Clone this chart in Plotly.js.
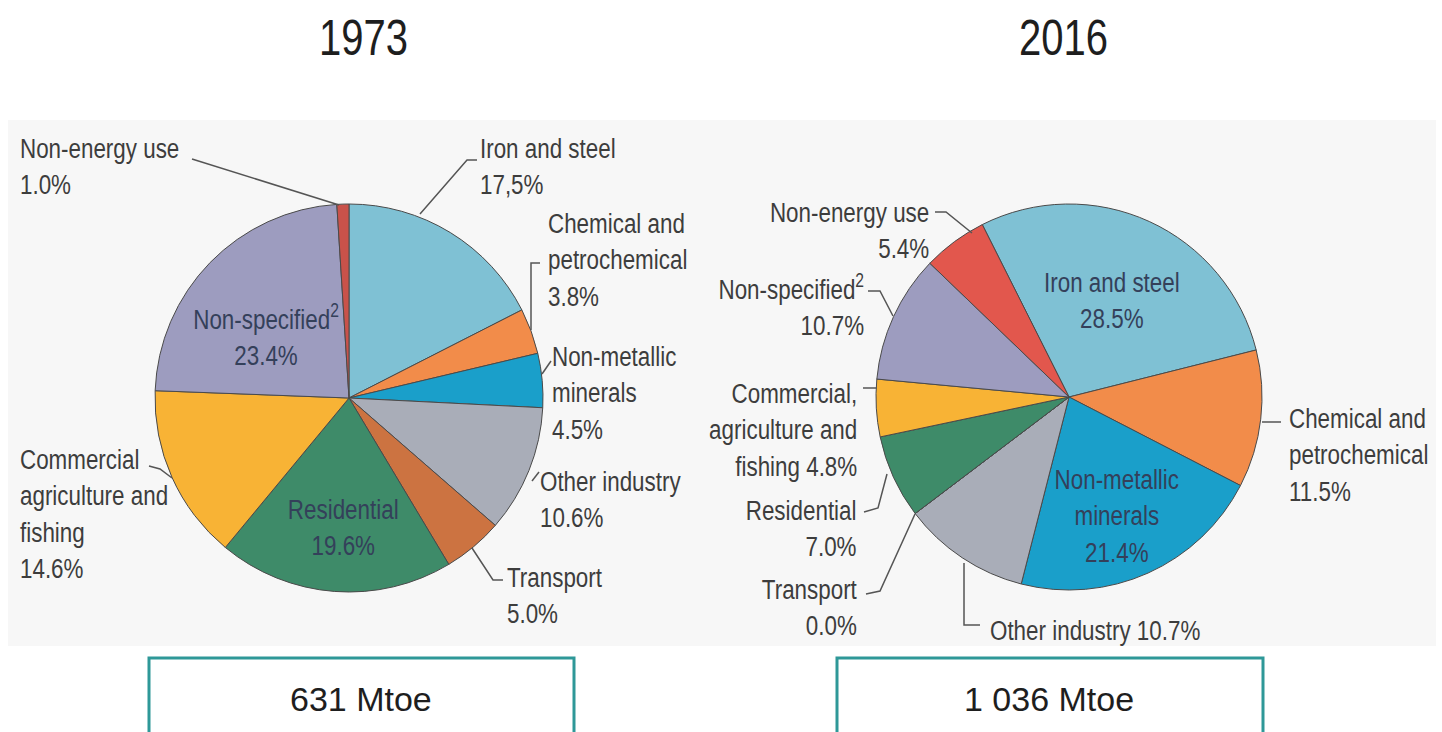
<!DOCTYPE html>
<html>
<head>
<meta charset="utf-8">
<script src="https://cdn.plot.ly/plotly-3.0.1.min.js"></script>
<style>html,body{margin:0;padding:0;background:#fff;}#chart{width:1442px;height:732px;}</style>
</head>
<body>
<div id="chart"></div>
<script>
// ---------- DATA ----------
const years = ["1973", "2016"];
const totals = ["631 Mtoe", "1 036 Mtoe"];
const categories = ["Iron and steel", "Chemical and petrochemical", "Non-metallic minerals", "Other industry", "Transport", "Residential", "Commercial, agriculture and fishing", "Non-specified", "Non-energy use"];
const values1973 = [17.5, 3.8, 4.5, 10.6, 5.0, 19.6, 14.6, 23.4, 1.0];
const values2016 = [28.5, 11.5, 21.4, 10.7, 0.0, 7.0, 4.8, 10.7, 5.4];
const names1973 = ["Iron and steel", "Chemical and<br>petrochemical", "Non-metallic<br>minerals", "Other industry", "Transport", "Residential", "Commercial<br>agriculture and<br>fishing", "Non-specified<sup>2</sup>", "Non-energy use"];
const names2016 = ["Iron and steel", "Chemical and<br>petrochemical", "Non-metallic<br>minerals", "Other industry", "Transport", "Residential", "Commercial,<br>agriculture and<br>fishing", "Non-specified<sup>2</sup>", "Non-energy use"];
const pct1973 = ["17,5%", "3.8%", "4.5%", "10.6%", "5.0%", "19.6%", "14.6%", "23.4%", "1.0%"];
const pct2016 = ["28.5%", "11.5%", "21.4%", "10.7%", "0.0%", "7.0%", "4.8%", "10.7%", "5.4%"];

// ---------- STYLE / LAYOUT ----------
const W = 1442, H = 732;
const colors1973 = ["#7fc1d4", "#f28c4a", "#1a9fca", "#a9adb8", "#cc7341", "#3e8b69", "#f8b335", "#9d9cbf", "#c9524a"];
const colors2016 = ["#7fc1d4", "#f28c4a", "#1a9fca", "#a9adb8", "#cc7341", "#3e8b69", "#f8b335", "#9d9cbf", "#e2574d"];
const sep1973 = ["<br>", "<br>", "<br>", "<br>", "<br>", "<br>", "<br>", "<br>", "<br>"];
const sep2016 = ["<br>", "<br>", "<br>", " ", "<br>", "<br>", " ", "<br>", "<br>"];
// label anchor positions in pixels [x, y(center), xanchor, inside]
const pos1973 = [[478,166,"left",0],[546,260,"left",0],[550,393,"left",0],[538,499,"left",0],[505,595,"left",0],[343,527,"center",1],[18,514,"left",0],[266,335,"center",1],[18,166,"left",0]];
const pos2016 = [[1112,300,"center",1],[1287,455,"left",0],[1117,516,"center",1],[988,630,"left",0],[859,607,"right",0],[859,528,"right",0],[859,430,"right",0],[866,305,"right",0],[931,230,"right",0]];
const leaders = [
  [[192,159],[339,205]],
  [[477,160],[467,160],[420,214]],
  [[540,263],[531,263],[531,330]],
  [[551,361],[542,374]],
  [[539,472],[532,481]],
  [[472,548],[493,580],[503,580]],
  [[149,466],[160,469],[172,478]],
  [[935,212],[946,212],[972,233]],
  [[868,291],[880,291],[893,316]],
  [[863,388],[877,388]],
  [[864,512],[878,508],[887,474]],
  [[866,594],[880,591],[915,514]],
  [[964,563],[964,625],[980,625]],
  [[1262,422],[1281,422]]
];

const labFam = '"Liberation Sans", Arial, sans-serif';
const labSize = 28, titleSize = 50, squeeze = 0.8;

const px = x => x / W;
const py = y => 1 - y / H;

function pieTrace(values, colors, cx, cy, r, rot){
  return {
    type: 'pie', values: values, labels: categories, sort: false, direction: 'clockwise',
    rotation: rot, textinfo: 'none', showlegend: false, hoverinfo: 'label+percent',
    marker: {colors: colors, line: {color: '#4a4a4a', width: 1}},
    domain: {x: [px(cx - r), px(cx + r)], y: [py(cy + r), py(cy - r)]}
  };
}

const data = [
  pieTrace(values1973, colors1973, 349, 398, 194, 0),
  pieTrace(values2016, colors2016, 1069, 397, 193, -26.7)
];

const annotations = [];
const squeezeFlags = [];
function addLabels(names, pcts, seps, pos){
  names.forEach((n, i) => {
    const p = pos[i];
    annotations.push({
      xref: 'paper', yref: 'paper', x: px(p[0]), y: py(p[1]),
      xanchor: p[2], yanchor: 'middle', align: p[2], showarrow: false,
      text: n + seps[i] + pcts[i],
      font: {family: labFam, size: labSize, color: p[3] ? '#34405a' : '#3d3d3d'}
    });
    squeezeFlags.push(true);
  });
}
addLabels(names1973, pct1973, sep1973, pos1973);
addLabels(names2016, pct2016, sep2016, pos2016);

[[363, 38], [1063, 38]].forEach((p, i) => {
  annotations.push({
    xref: 'paper', yref: 'paper', x: px(p[0]), y: py(p[1]), xanchor: 'center', yanchor: 'middle',
    showarrow: false, text: years[i], font: {family: labFam, size: titleSize, color: '#1e1e1e'}
  });
  squeezeFlags.push(true);
});
[[361, 699], [1049, 699]].forEach((p, i) => {
  annotations.push({
    xref: 'paper', yref: 'paper', x: px(p[0]), y: py(p[1]), xanchor: 'center', yanchor: 'middle',
    showarrow: false, text: totals[i], font: {family: labFam, size: 34, color: '#1e1e1e'}
  });
  squeezeFlags.push(false);
});

const shapes = [
  {type: 'rect', xref: 'paper', yref: 'paper', layer: 'below', x0: px(8), x1: px(1436), y0: py(646), y1: py(120), fillcolor: '#f7f7f7', line: {width: 0}},
  {type: 'rect', xref: 'paper', yref: 'paper', layer: 'below', x0: px(149), x1: px(574), y0: py(745), y1: py(658), fillcolor: '#ffffff', line: {color: '#2e9898', width: 3}},
  {type: 'rect', xref: 'paper', yref: 'paper', layer: 'below', x0: px(837), x1: px(1263), y0: py(745), y1: py(658), fillcolor: '#ffffff', line: {color: '#2e9898', width: 3}}
];
leaders.forEach(pts => {
  const path = pts.map((p, i) => (i ? 'L' : 'M') + px(p[0]).toFixed(5) + ',' + py(p[1]).toFixed(5)).join(' ');
  shapes.push({type: 'path', xref: 'paper', yref: 'paper', path: path, line: {color: '#555555', width: 1.5}});
});

const layout = {
  width: W, height: H, margin: {l: 0, r: 0, t: 0, b: 0},
  paper_bgcolor: '#ffffff', plot_bgcolor: '#ffffff',
  showlegend: false, annotations: annotations, shapes: shapes
};
Plotly.newPlot('chart', data, layout, {displayModeBar: false, staticPlot: true}).then(gd => {
  // narrow the label lettering horizontally (the reference uses a condensed face)
  gd.querySelectorAll('g.annotation').forEach(g => {
    const idx = +g.getAttribute('data-index');
    if (!squeezeFlags[idx]) return;
    const t = g.querySelector('text.annotation-text');
    if (!t) return;
    const bb = t.getBBox();
    const xa = annotations[idx].xanchor;
    const ax = xa === 'left' ? bb.x : (xa === 'right' ? bb.x + bb.width : bb.x + bb.width / 2);
    t.setAttribute('transform', 'translate(' + ax + ',0) scale(' + squeeze + ',1) translate(' + (-ax) + ',0)');
  });
});
</script>
</body>
</html>
